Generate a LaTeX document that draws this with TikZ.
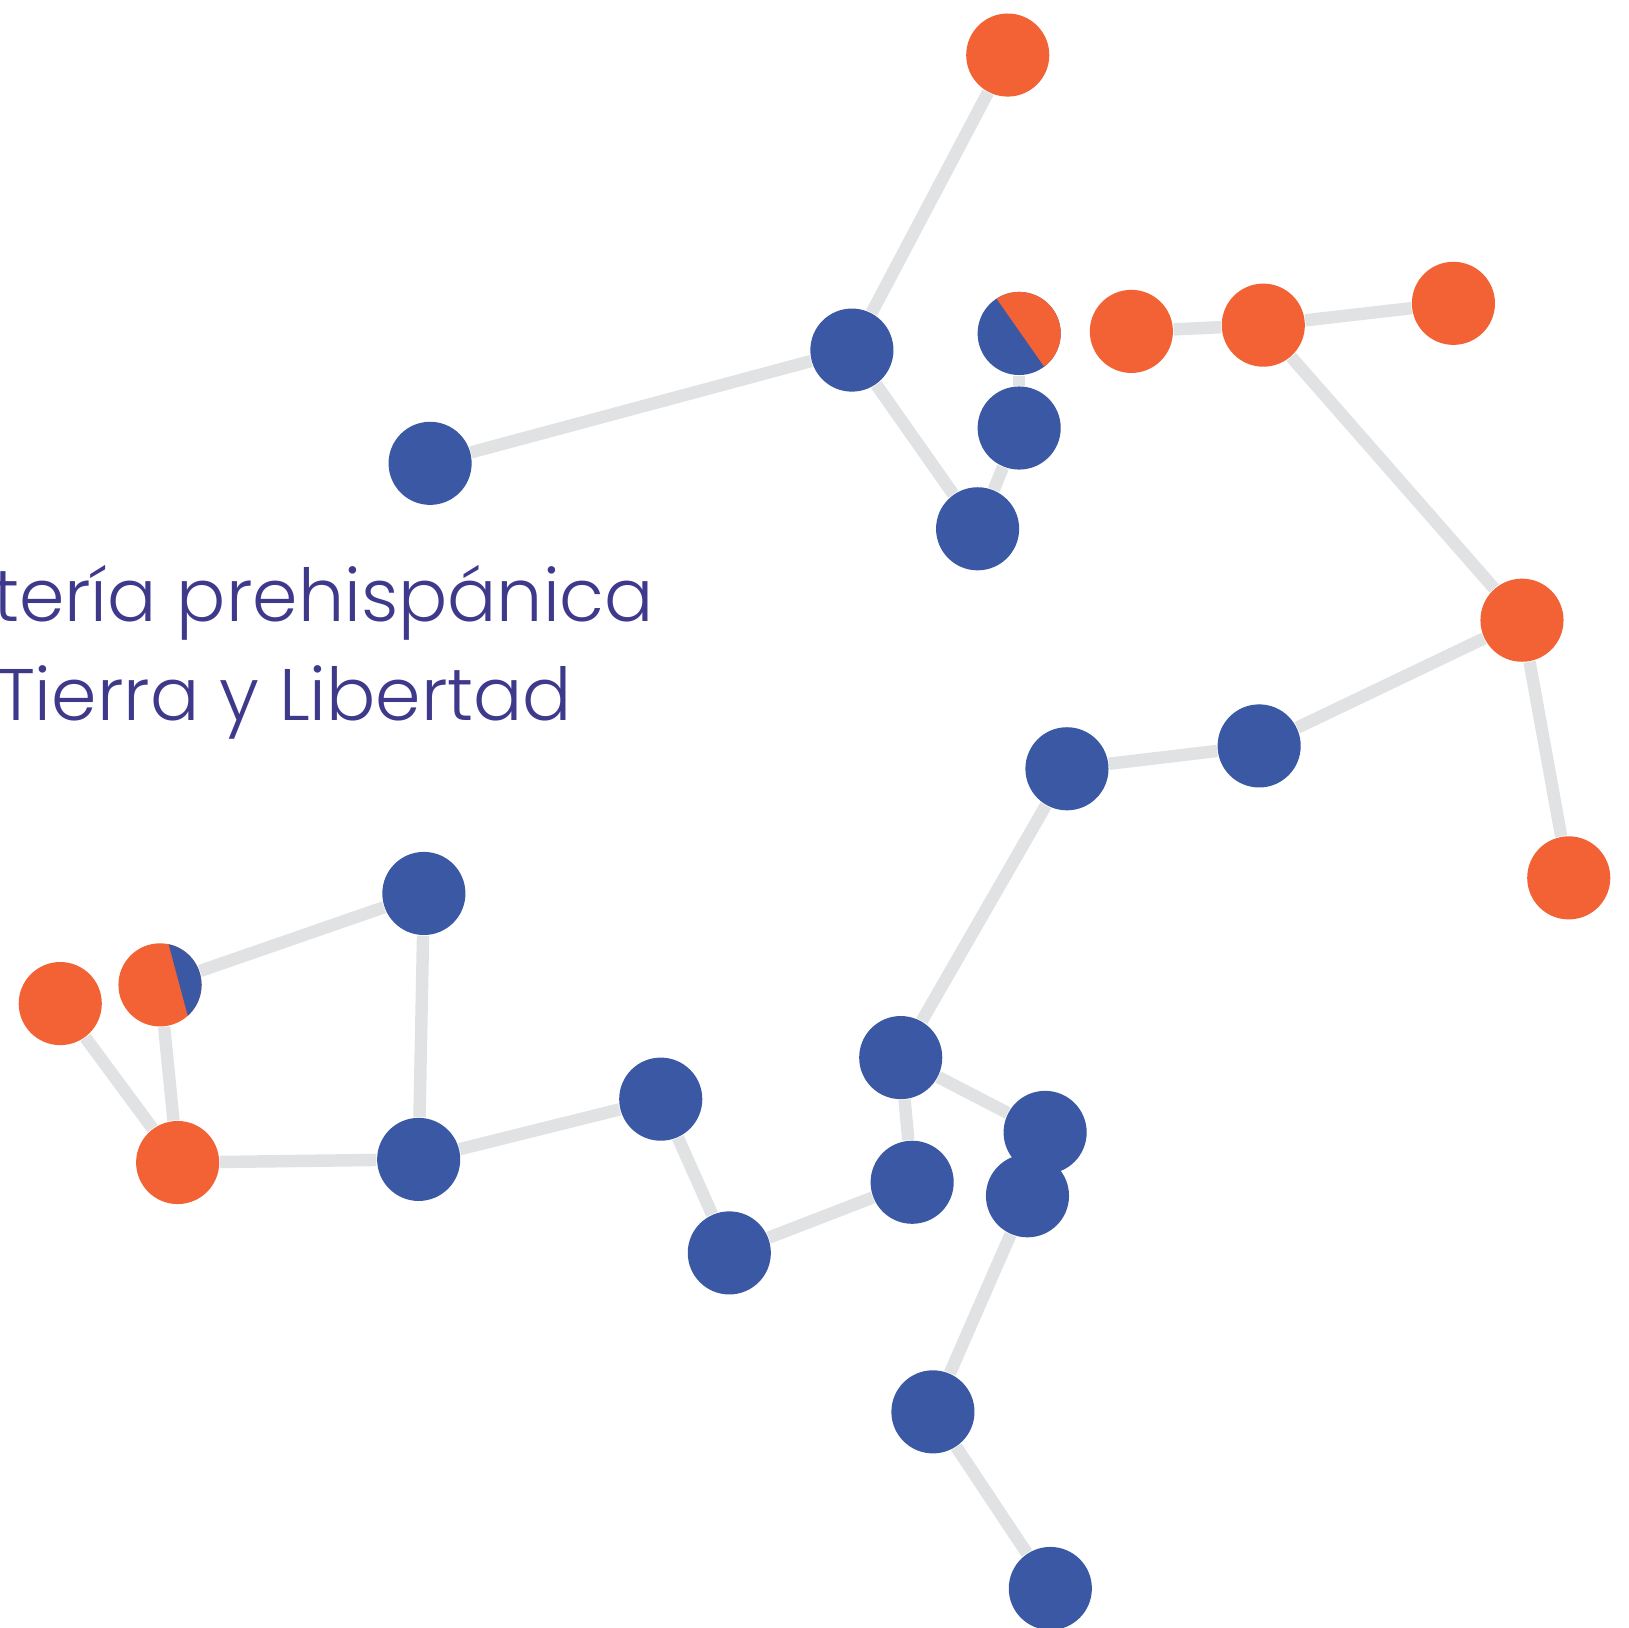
\documentclass[tikz,border=0pt]{standalone}
\usepackage{fontspec}
\setmainfont{Poppins Light}
\usepackage{tikz}
\usetikzlibrary{backgrounds}
\usetikzlibrary{positioning}
\definecolor{dotblue}{RGB}{58,88,164}
\definecolor{dotorange}{RGB}{242,98,52}
\definecolor{linkgray}{RGB}{225,226,227}
\definecolor{titleblue}{RGB}{62,57,138}
\tikzstyle{bluedot} = [circle, fill=dotblue, minimum size=8mm, inner sep=0pt]
\tikzstyle{orangedot} = [circle, fill=dotorange, minimum size=8mm, inner sep=0pt]
\tikzstyle{link} = [draw=linkgray, line width=1.2mm]

\begin{document}
\begin{tikzpicture}[x=0.1mm,y=-0.1mm]
    \useasboundingbox (0,0) rectangle (1568,1567);
    % Title
    \node[text=titleblue, font=\fontsize{20}{27}\selectfont, align=center] (title) at (274,628)
        {Lotería prehispánica\\Tierra y Libertad};
    % Place nodes
    \node[orangedot] (a) at (970,53) {};
    \node[bluedot] (b) at (820,337) {};
    \node[bluedot] (c) at (414,446) {};
    \node[bluedot] (d) at (981,321) {};
    \begin{scope}[shift={(d.center)}, x=1mm, y=1mm]
    \fill[dotorange] (-53:4) arc (-53:123:4) -- cycle;
    \end{scope}
    \node[bluedot] (e) at (981,412) {};
    \node[bluedot] (f) at (941,509) {};
    \node[orangedot] (g) at (1089,319) {};
    \node[orangedot] (h) at (1216,313) {};
    \node[orangedot] (i) at (1399,292) {};
    \node[orangedot] (j) at (1465,597) {};
    \node[orangedot] (k) at (1510,845) {};
    \node[bluedot] (l) at (1212,718) {};
    \node[bluedot] (m) at (1027,740) {};
    \node[bluedot] (n) at (867,1018) {};
    \node[bluedot] (o) at (1006,1090) {};
    \node[bluedot] (p) at (989,1151) {};
    \node[bluedot] (q) at (878,1138) {};
    \node[bluedot] (r) at (702,1206) {};
    \node[bluedot] (s) at (636,1058) {};
    \node[bluedot] (t) at (403,1116) {};
    \node[bluedot] (u) at (408,860) {};
    \node[orangedot] (v) at (154,948) {};
    \begin{scope}[shift={(v.center)}, x=1mm, y=1mm]
    \fill[dotblue] (78:4) arc (78:-48:4) -- cycle;
    \end{scope}
    \node[orangedot] (w) at (58,966) {};
    \node[orangedot] (x) at (171,1119) {};
    \node[bluedot] (y) at (898,1359) {};
    \node[bluedot] (z) at (1011,1529) {};
    % Draw edges
    \begin{scope}[on background layer]
    \path [link] (a) -- (b);
    \path [link] (b) -- (c);
    \path [link] (b) -- (f);
    \path [link] (f) -- (e);
    \path [link] (e) -- (d);
    \path [link] (g) -- (h);
    \path [link] (h) -- (i);
    \path [link] (h) -- (j);
    \path [link] (j) -- (l);
    \path [link] (j) -- (k);
    \path [link] (l) -- (m);
    \path [link] (m) -- (n);
    \path [link] (n) -- (o);
    \path [link] (n) -- (q);
    \path [link] (q) -- (r);
    \path [link] (r) -- (s);
    \path [link] (s) -- (t);
    \path [link] (t) -- (u);
    \path [link] (t) -- (x);
    \path [link] (u) -- (v);
    \path [link] (v) -- (x);
    \path [link] (w) -- (x);
    \path [link] (p) -- (y);
    \path [link] (y) -- (z);
    \end{scope}
\end{tikzpicture}
\end{document}
